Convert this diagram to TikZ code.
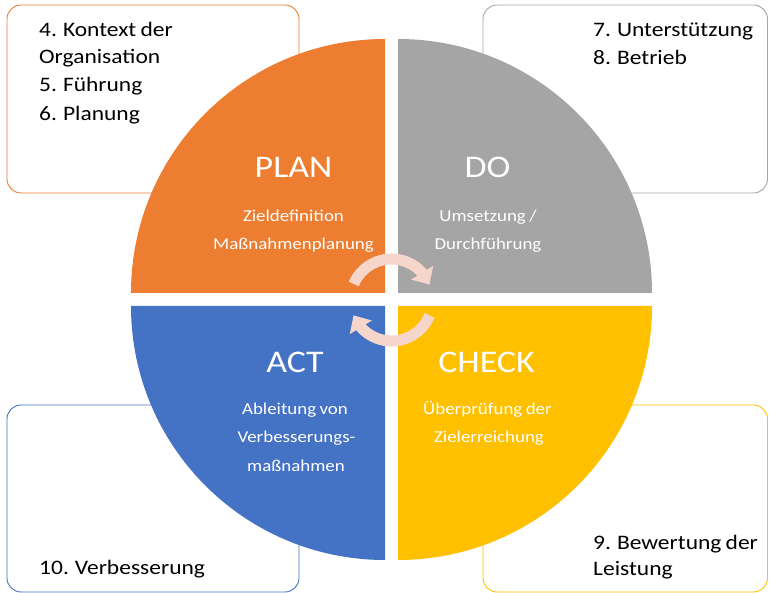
\documentclass[tikz,border=0pt]{standalone}
\usepackage{fontspec}
\setmainfont{Carlito}[FakeStretch=1.14,WordSpace=0.8]
\usetikzlibrary{arrows.meta,bending}
\definecolor{cOrange}{HTML}{ED7D31}
\definecolor{cGray}{HTML}{A5A5A5}
\definecolor{cBlue}{HTML}{4472C4}
\definecolor{cYellow}{HTML}{FFC000}
\definecolor{cPink}{HTML}{F6D6CB}
\begin{document}
\begin{tikzpicture}[x=1pt,y=-1pt,
  box/.style={rounded corners=14pt, line width=0.9pt, fill=white},
  corner/.style={anchor=base west, inner sep=0pt, font=\fontsize{20.6}{24}\selectfont, text=black},
  title/.style={anchor=base, inner sep=0pt, font=\fontsize{31.5}{36}\selectfont, text=white},
  sub/.style={anchor=base, inner sep=0pt, font=\fontsize{16.6}{20}\selectfont, text=white},
  cyc/.style={draw=cPink, line width=11pt, -{Triangle[width=25pt,length=14pt]}}
]
\useasboundingbox (0,0) rectangle (769,593);
\fill[white] (0,0) rectangle (769,593);

% corner boxes
\draw[box, draw=cOrange] (7,5) rectangle (299,193);
\draw[box, draw=cGray] (483,5) rectangle (767.5,193);
\draw[box, draw=cBlue] (7,405) rectangle (299,592);
\draw[box, draw=cYellow] (483,405) rectangle (767.5,592);

% quadrants
\fill[cOrange] (385,293) -- ++(-254,0) arc[start angle=180, end angle=270, radius=254] -- cycle;
\fill[cGray] (398,293) -- ++(0,-254) arc[start angle=270, end angle=360, radius=254] -- cycle;
\fill[cYellow] (398,306) -- ++(254,0) arc[start angle=0, end angle=90, radius=254] -- cycle;
\fill[cBlue] (385,306) -- ++(0,254) arc[start angle=90, end angle=180, radius=254] -- cycle;

% cycle arrows
\coordinate (cc) at (391.5,300);
\draw[cyc] (cc) ++(203:41) arc[start angle=203, end angle=338, radius=41];
\draw[cyc] (cc) ++(22:41) arc[start angle=22, end angle=158, radius=41];

% corner texts
\node[corner] (tl1) at (39,36.7) {4. Kontext der};
\node[corner] (tl2) at (39,63.3) {Organisation};
\node[corner] (tl3) at (39,91.7) {5. Führung};
\node[corner] (tl4) at (39,120.7) {6. Planung};
\node[corner] (tr1) at (593,36.7) {7. Unterstützung};
\node[corner] (tr2) at (593,65) {8. Betrieb};
\node[corner] (bl1) at (39,575) {10. Verbesserung};
\node[corner] (br1) at (593,550) {9. Bewertung der};
\node[corner] (br2) at (593,576) {Leistung};

% quadrant texts
\node[title] (plan) at (293.5,178) {PLAN};
\node[sub] (plan1) at (293.5,221.7) {Zieldefinition};
\node[sub] (plan2) at (293.5,250) {Maßnahmenplanung};

\node[title] (do) at (487.5,178) {DO};
\node[sub] (do1) at (488,221.7) {Umsetzung /};
\node[sub] (do2) at (488,250) {Durchführung};

\node[title] (act) at (295,372.5) {ACT};
\node[sub] (act1) at (295,414.5) {Ableitung von};
\node[sub] (act2) at (296.5,443) {Verbesserungs-};
\node[sub] (act3) at (296,472) {maßnahmen};

\node[title] (check) at (486.5,372.5) {CHECK};
\node[sub] (check1) at (487.5,414.5) {Überprüfung der};
\node[sub] (check2) at (489,443) {Zielerreichung};
\end{tikzpicture}
\end{document}
